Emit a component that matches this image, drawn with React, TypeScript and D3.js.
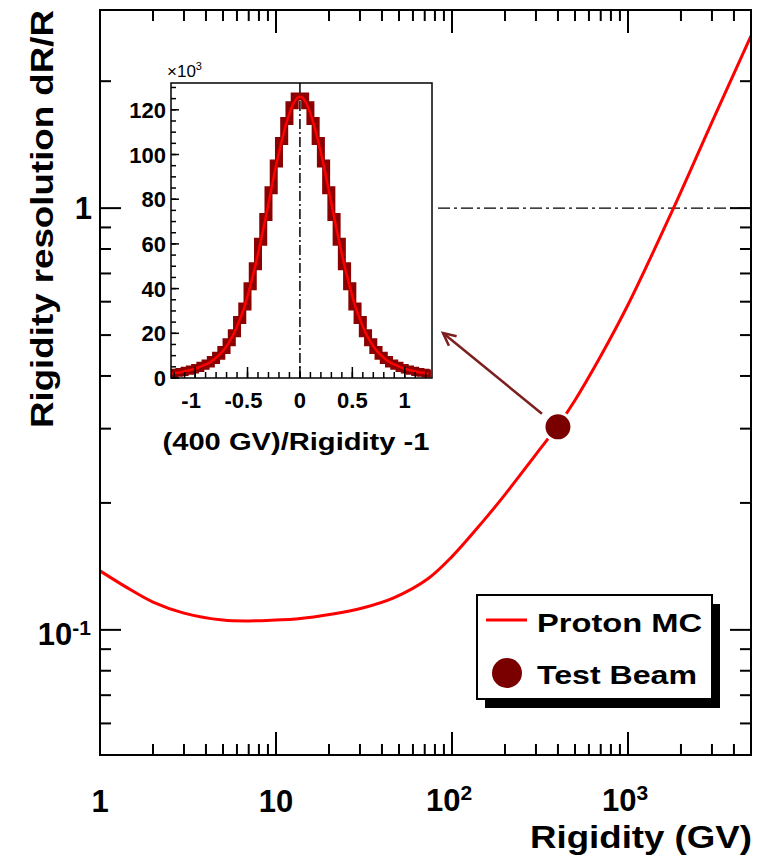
import React from "react";
import * as d3 from "d3";

// ---- main curve data ----
const RIGIDITY = [1, 1.5, 2, 3, 5, 7, 10, 13, 21, 31, 47, 73, 100, 150, 200, 300, 400, 500, 700, 1000, 1800, 3000, 5000];
const RESOLUTION = [0.138, 0.1243, 0.1164, 0.1096, 0.1055, 0.105, 0.1055, 0.1061, 0.109, 0.1127, 0.1193, 0.1322, 0.1492, 0.1808, 0.2093, 0.2608, 0.3049, 0.3504, 0.446, 0.59, 0.993, 1.6, 2.56];
const TEST_BEAM_R = [400];
const TEST_BEAM_RES = [0.303];

// ---- inset histogram ----
const BIN_CENTERS = [
  -1.225, -1.175, -1.125, -1.075, -1.025, -0.975, -0.925, -0.875, -0.825, -0.775,
  -0.725, -0.675, -0.625, -0.575, -0.525, -0.475, -0.425, -0.375, -0.325, -0.275,
  -0.225, -0.175, -0.125, -0.075, -0.025, 0.025, 0.075, 0.125, 0.175, 0.225,
  0.275, 0.325, 0.375, 0.425, 0.475, 0.525, 0.575, 0.625, 0.675, 0.725,
  0.775, 0.825, 0.875, 0.925, 0.975, 1.025, 1.075, 1.125, 1.175, 1.225,
];
const BIN_COUNTS = [
  2, 2.3, 2.7, 3.2, 3.8, 4.5, 5.5, 6.5, 8, 10,
  12.5, 16, 20, 26, 32, 41, 50, 61, 72, 84,
  96, 106, 115, 122, 126, 126, 122, 115, 106, 96,
  84, 72, 61, 50, 41, 32, 26, 20, 16, 12.5,
  10, 8, 6.5, 5.5, 4.5, 3.8, 3.2, 2.7, 2.3, 2,
];
const BIN_WIDTH = 0.05;

// ---- ticks ----
const X_MAJOR = [1, 10, 100, 1000];
const X_MINOR = [2, 3, 4, 5, 6, 7, 8, 9, 20, 30, 40, 50, 60, 70, 80, 90, 200, 300, 400, 500, 600, 700, 800, 900, 2000, 3000, 4000];
const Y_MAJOR = [0.1, 1];
const Y_MINOR = [0.06, 0.07, 0.08, 0.09, 0.2, 0.3, 0.4, 0.5, 0.6, 0.7, 0.8, 0.9, 2];
const IX_MAJOR = [-1, -0.5, 0, 0.5, 1];
const IX_LABELS = ["-1", "-0.5", "0", "0.5", "1"];
const IY_MAJOR = [0, 20, 40, 60, 80, 100, 120];

const FONT = "'Liberation Sans', Arial, Helvetica, sans-serif";

export default function App() {
  const W = 757, H = 857;
  const L = 100, R = 751, T = 10, B = 755;
  const x = d3.scaleLog().domain([1, 5000]).range([L, R]);
  const y = d3.scaleLog().domain([0.0505, 2.95]).range([B, T]);

  const curve = d3
    .line<number>()
    .x((_, i) => x(RIGIDITY[i]))
    .y((d) => y(d))
    .curve(d3.curveCatmullRom.alpha(0.5))(RESOLUTION) as string;

  // inset
  const IL = 171, IR = 432, IT = 83, IB = 378;
  const ix = d3.scaleLinear().domain([-1.23, 1.26]).range([IL, IR]);
  const iy = d3.scaleLinear().domain([0, 132]).range([IB, IT]);
  const stepPts: [number, number][] = [];
  BIN_CENTERS.forEach((c, i) => {
    stepPts.push([ix(c - BIN_WIDTH / 2), iy(BIN_COUNTS[i])]);
    stepPts.push([ix(c + BIN_WIDTH / 2), iy(BIN_COUNTS[i])]);
  });
  const histPath = d3.line()(stepPts) as string;
  const fitPath = d3
    .line<number>()
    .x((_, i) => ix(BIN_CENTERS[i]))
    .y((d) => iy(d))
    .curve(d3.curveBasis)(BIN_COUNTS) as string;
  const ixMinor = d3.range(-12, 13).map((k) => k / 10);
  const iyMinor = d3.range(0, 131, 5);

  const padRight = 438;
  const tbx = x(TEST_BEAM_R[0]);
  const tby = y(TEST_BEAM_RES[0]);

  // arrow
  const ax0 = tbx - 16, ay0 = tby - 13;
  const ax1 = 443, ay1 = 333;
  const ang = Math.atan2(ay1 - ay0, ax1 - ax0);
  const hl = 14;
  const head = `M${ax1 - hl * Math.cos(ang - 0.45)},${ay1 - hl * Math.sin(ang - 0.45)}L${ax1},${ay1}L${ax1 - hl * Math.cos(ang + 0.45)},${ay1 - hl * Math.sin(ang + 0.45)}`;

  const darkRed = "#7a0000";
  const SG = "spacingAndGlyphs";

  return (
    <svg width={W} height={H} style={{ position: "absolute", left: 0, top: 0, background: "#fff" }} fontFamily={FONT}>
      <defs>
        <clipPath id="mainClip">
          <rect x={L} y={T} width={R - L} height={B - T} />
        </clipPath>
        <clipPath id="insetClip">
          <rect x={IL} y={IT} width={IR - IL} height={IB - IT} />
        </clipPath>
      </defs>

      {/* dashed line at 1 */}
      <line x1={padRight} x2={R} y1={y(1)} y2={y(1)} stroke="#000" strokeWidth={1.4} strokeDasharray="12,4,3,4" />

      {/* main curve */}
      <path d={curve} fill="none" stroke="#ff0000" strokeWidth={3} clipPath="url(#mainClip)" />

      {/* main frame */}
      <rect x={L} y={T} width={R - L} height={B - T} fill="none" stroke="#000" strokeWidth={2} />

      {/* x ticks */}
      {X_MAJOR.map((v) => (
        <g key={"xM" + v}>
          <line x1={x(v)} x2={x(v)} y1={B} y2={B - 23} stroke="#000" strokeWidth={2} />
          <line x1={x(v)} x2={x(v)} y1={T} y2={T + 23} stroke="#000" strokeWidth={2} />
        </g>
      ))}
      {X_MINOR.map((v) => (
        <g key={"xm" + v}>
          <line x1={x(v)} x2={x(v)} y1={B} y2={B - 11} stroke="#000" strokeWidth={2} />
          <line x1={x(v)} x2={x(v)} y1={T} y2={T + 11} stroke="#000" strokeWidth={2} />
        </g>
      ))}
      {Y_MAJOR.map((v) => (
        <g key={"yM" + v}>
          <line x1={L} x2={L + 21} y1={y(v)} y2={y(v)} stroke="#000" strokeWidth={2} />
          <line x1={R} x2={R - 21} y1={y(v)} y2={y(v)} stroke="#000" strokeWidth={2} />
        </g>
      ))}
      {Y_MINOR.map((v) => (
        <g key={"ym" + v}>
          <line x1={L} x2={L + 11} y1={y(v)} y2={y(v)} stroke="#000" strokeWidth={2} />
          <line x1={R} x2={R - 11} y1={y(v)} y2={y(v)} stroke="#000" strokeWidth={2} />
        </g>
      ))}

      {/* main labels */}
      <g fontWeight="bold" fill="#000">
        <text x={x(1)} y={812} fontSize={31} textAnchor="middle">1</text>
        <text x={x(10)} y={812} fontSize={31} textAnchor="middle">10</text>
        <text x={x(100) - 3} y={811} fontSize={31} textAnchor="middle">
          10<tspan fontSize={21} dy={-11}>2</tspan>
        </text>
        <text x={x(1000) - 3} y={811} fontSize={31} textAnchor="middle">
          10<tspan fontSize={21} dy={-11}>3</tspan>
        </text>
        <text x={92} y={y(1) + 11} fontSize={31} textAnchor="end">1</text>
        <text x={91} y={y(0.1) + 15} fontSize={31} textAnchor="end">
          10<tspan fontSize={21} dy={-10}>-1</tspan>
        </text>
        <text x={752} y={848} fontSize={31} textAnchor="end" textLength={222} lengthAdjust={SG}>Rigidity (GV)</text>
        <text transform={`translate(53,10) rotate(-90)`} fontSize={31} textAnchor="end" textLength={418} lengthAdjust={SG}>Rigidity resolution dR/R</text>
      </g>

      {/* inset pad */}
      <rect x={125} y={58} width={padRight - 125} height={410} fill="#fff" />
      <g clipPath="url(#insetClip)">
        <line x1={ix(0)} x2={ix(0)} y1={IT} y2={IB} stroke="#000" strokeWidth={1.5} strokeDasharray="10,3,2,3" />
        <path d={histPath} fill="none" stroke="#8b0000" strokeWidth={8} strokeLinejoin="miter" />
        <path d={fitPath} fill="none" stroke="#ff0000" strokeWidth={2.5} />
      </g>
      <rect x={IL} y={IT} width={IR - IL} height={IB - IT} fill="none" stroke="#000" strokeWidth={1.5} />
      {IX_MAJOR.map((v) => (
        <line key={"ixM" + v} x1={ix(v)} x2={ix(v)} y1={IB} y2={IB - 11} stroke="#000" strokeWidth={1.5} />
      ))}
      {ixMinor.map((v) => (
        <line key={"ixm" + v} x1={ix(v)} x2={ix(v)} y1={IB} y2={IB - 6} stroke="#000" strokeWidth={1.5} />
      ))}
      {IY_MAJOR.map((v) => (
        <line key={"iyM" + v} x1={IL} x2={IL + 8} y1={iy(v)} y2={iy(v)} stroke="#000" strokeWidth={1.5} />
      ))}
      {iyMinor.map((v) => (
        <line key={"iym" + v} x1={IL} x2={IL + 5} y1={iy(v)} y2={iy(v)} stroke="#000" strokeWidth={1.5} />
      ))}
      <g fontWeight="bold" fill="#000" fontSize={22}>
        {IY_MAJOR.map((v) => (
          <text key={"iyl" + v} x={166} y={iy(v) + 8} textAnchor="end">{v}</text>
        ))}
        {IX_MAJOR.map((v, i) => (
          <text key={"ixl" + v} x={ix(v) - (v < 0 ? 4 : 0)} y={408} textAnchor="middle">{IX_LABELS[i]}</text>
        ))}
        <text x={296} y={450} fontSize={24} textAnchor="middle" textLength={267} lengthAdjust={SG}>(400 GV)/Rigidity -1</text>
      </g>
      <text x={167} y={77} fontSize={17} fill="#000">
        ×10<tspan fontSize={11} dy={-7}>3</tspan>
      </text>

      {/* arrow */}
      <line x1={ax0} y1={ay0} x2={ax1} y2={ay1} stroke="#7b1f1f" strokeWidth={2.5} />
      <path d={head} fill="none" stroke="#7b1f1f" strokeWidth={2.5} />

      {/* test beam point */}
      <circle cx={tbx} cy={tby} r={14} fill={darkRed} stroke="#fff" strokeWidth={3} />

      {/* legend */}
      <rect x={485} y={604} width={235} height={104} fill="#000" />
      <rect x={477} y={595} width={235} height={104} fill="#fff" stroke="#000" strokeWidth={2} />
      <line x1={486} x2={527} y1={620} y2={620} stroke="#ff0000" strokeWidth={3} />
      <circle cx={507} cy={673} r={15} fill={darkRed} />
      <g fontWeight="bold" fill="#000" fontSize={26}>
        <text x={537} y={632} textLength={165} lengthAdjust={SG}>Proton MC</text>
        <text x={537} y={684} textLength={160} lengthAdjust={SG}>Test Beam</text>
      </g>
    </svg>
  );
}
